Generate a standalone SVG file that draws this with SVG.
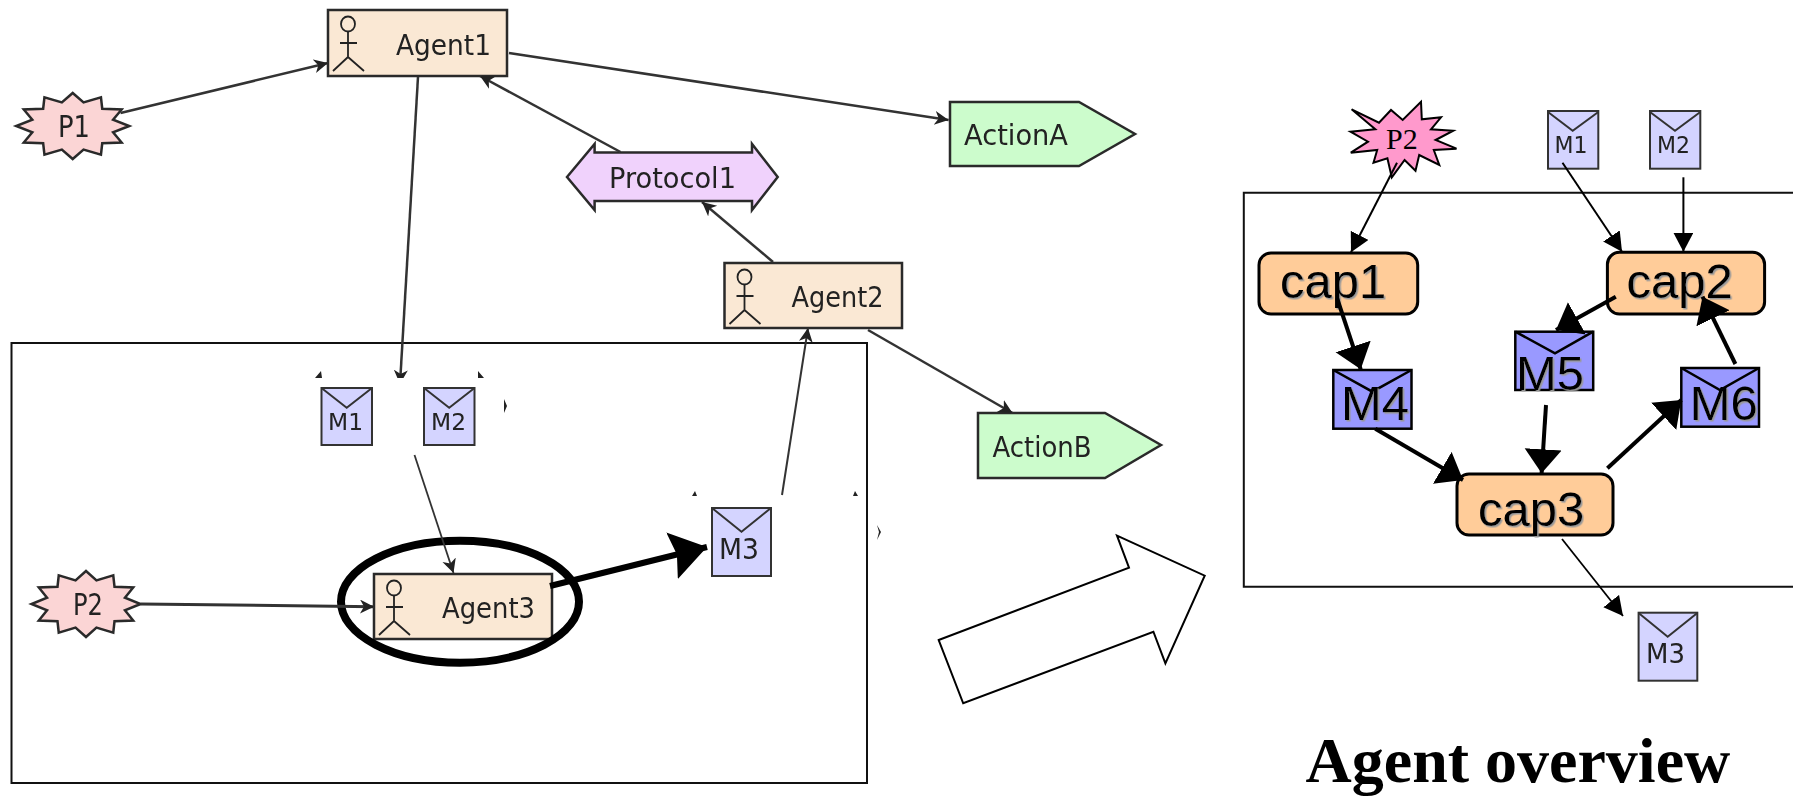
<svg xmlns="http://www.w3.org/2000/svg" xmlns:xlink="http://www.w3.org/1999/xlink" width="1793" height="796" viewBox="0 0 1793 796">
<style>
.frame{fill:none;stroke:#111;stroke-width:2}
.patch{fill:#fff}
.ol{stroke:#2a2a2a;stroke-width:2.5}
.agent{fill:#fae8d4}
.percept{fill:#fbd5d5;vector-effect:non-scaling-stroke}
.action{fill:#ccfccc}
.protocol{fill:#f0d2fc}
.msg{fill:#d4d4ff;stroke:#333;stroke-width:2}
.msgd{fill:#9999ff;stroke:#000;stroke-width:2.5}
.cap{fill:#ffcc99;stroke:#000;stroke-width:3}
.vee{fill:none;stroke:#333;stroke-width:2}
.veed{fill:none;stroke:#000;stroke-width:2.5}
.fig{fill:none;stroke:#222;stroke-width:1.8}
.t{font-family:"DejaVu Sans",sans-serif;fill:#222;text-anchor:start}
.big{font-family:"Liberation Sans",Arial,sans-serif;font-size:49px;fill:#000;filter:url(#sh)}
.soft{filter:url(#soft)}
.c1{fill:none;stroke:#333;stroke-width:2.5;marker-end:url(#vh)}
.c2{fill:none;stroke:#000;stroke-width:2;marker-end:url(#ta)}
.c3{fill:none;stroke:#000;stroke-width:4;marker-end:url(#tb)}
.mark{fill:#222}
</style>
<defs>
<filter id="sh" x="-5%" y="-5%" width="115%" height="115%"><feDropShadow dx="1.5" dy="1.5" stdDeviation="0" flood-color="#999"/></filter>
<filter id="soft" x="-5%" y="-5%" width="110%" height="110%"><feGaussianBlur stdDeviation="0.5"/></filter>
<marker id="vh" markerUnits="userSpaceOnUse" markerWidth="16" markerHeight="16" refX="14" refY="7" orient="auto"><path d="M0,0 L14,7 L0,14 L4,7 z" fill="#222"/></marker>
<marker id="ta" markerUnits="userSpaceOnUse" markerWidth="22" markerHeight="22" refX="19" refY="10" orient="auto"><path d="M0,0 L19,10 L0,20 z" fill="#000"/></marker>
<marker id="tb" markerUnits="userSpaceOnUse" markerWidth="28" markerHeight="40" refX="24" refY="18.5" orient="auto"><path d="M0,0 L24,18.5 L0,37 z" fill="#000"/></marker>
<marker id="tc" markerUnits="userSpaceOnUse" markerWidth="40" markerHeight="52" refX="36" refY="24" orient="auto"><path d="M0,0 L36,24 L0,48 L5,24 z" fill="#000"/></marker>
<clipPath id="above"><rect x="0" y="0" width="1793" height="378"/></clipPath>
<polygon id="star" points="100,0 71.5,19.2 86.6,50 52.3,52.3 50,86.6 19.2,71.5 0,100 -19.2,71.5 -50,86.6 -52.3,52.3 -86.6,50 -71.5,19.2 -100,0 -71.5,-19.2 -86.6,-50 -52.3,-52.3 -50,-86.6 -19.2,-71.5 0,-100 19.2,-71.5 50,-86.6 52.3,-52.3 86.6,-50 71.5,-19.2" class="percept ol"/>
<g id="fig"><ellipse cx="20" cy="14" rx="7" ry="7.5" class="fig"/><path class="fig" d="M20,22 V47 M12,33 H29 M20,47 L5,61 M20,47 L36,61"/></g>
</defs>

<g id="frames">
<rect class="frame" x="11.5" y="343" width="855.5" height="440"/>
<path class="frame" d="M1793,192.7 H1243.8 V586.7 H1793"/>
</g>
<g id="patches">
<rect class="patch" x="293" y="378" width="212" height="75"/>
<rect class="patch" x="666" y="496" width="200" height="71"/>
</g>

<g id="agent1" class="soft"><rect class="agent ol" x="328" y="10" width="179" height="66"/><use xlink:href="#fig" x="328" y="10"/><text class="t" x="396" y="55" font-size="29" textLength="95" lengthAdjust="spacingAndGlyphs">Agent1</text></g>
<g id="agent2" class="soft"><rect class="agent ol" x="724.5" y="263" width="177.5" height="65"/><use xlink:href="#fig" x="724.5" y="263"/><text class="t" x="791.5" y="307" font-size="29" textLength="92" lengthAdjust="spacingAndGlyphs">Agent2</text></g>
<g id="agent3" class="soft"><rect class="agent ol" x="374" y="574" width="178" height="65"/><use xlink:href="#fig" x="374" y="574"/><text class="t" x="442" y="618" font-size="29" textLength="93" lengthAdjust="spacingAndGlyphs">Agent3</text></g>
<ellipse id="highlight" cx="460" cy="601.7" rx="119" ry="61" fill="none" stroke="#000" stroke-width="8"/>
<g id="p1" class="soft"><use xlink:href="#star" transform="translate(72.7,126) scale(.565,.33)"/><text class="t" x="58" y="137" font-size="30" textLength="32" lengthAdjust="spacingAndGlyphs">P1</text></g>
<g id="p2-left" class="soft"><use xlink:href="#star" transform="translate(86,604) scale(.545,.33)"/><text class="t" x="73" y="615" font-size="30" textLength="30" lengthAdjust="spacingAndGlyphs">P2</text></g>
<g id="protocol1" class="soft"><polygon class="protocol ol" points="567,177 594.6,144 594.6,152.5 752,152.5 752,144 777.7,177 752,210 752,201 594.6,201 594.6,210"/><text class="t" x="609" y="188" font-size="29" textLength="127" lengthAdjust="spacingAndGlyphs">Protocol1</text></g>
<g id="actiona" class="soft"><polygon class="action ol" points="950,102 1079,102 1135,134 1079,166 950,166"/><text class="t" x="964" y="145" font-size="29" textLength="104" lengthAdjust="spacingAndGlyphs">ActionA</text></g>
<g id="actionb" class="soft"><polygon class="action ol" points="978,413 1105,413 1161,445 1105,478 978,478"/><text class="t" x="992.5" y="457" font-size="29" textLength="99" lengthAdjust="spacingAndGlyphs">ActionB</text></g>
<g id="m1-left" class="soft"><rect class="msg" x="321.5" y="388" width="50.5" height="57"/><path class="vee" d="M321.5,388 L346.7,407.7 L372,388"/><text class="t" x="328" y="430" font-size="23" textLength="35" lengthAdjust="spacingAndGlyphs">M1</text></g>
<g id="m2-left" class="soft"><rect class="msg" x="424" y="388" width="50.5" height="57"/><path class="vee" d="M424,388 L449.2,407.7 L474.5,388"/><text class="t" x="431" y="430" font-size="23" textLength="35" lengthAdjust="spacingAndGlyphs">M2</text></g>
<g id="m3-left" class="soft"><rect class="msg" x="712" y="508" width="59" height="68"/><path class="vee" d="M712,508 L741.5,531.7 L771,508"/><text class="t" x="719" y="559" font-size="29" textLength="40" lengthAdjust="spacingAndGlyphs">M3</text></g>

<g id="big-arrow"><polygon fill="#fff" stroke="#000" stroke-width="2" points="938.7,640 1129,567.7 1117,535.7 1204.7,575.7 1165.4,663.3 1153.4,631.7 963.2,703.3"/></g>

<g id="p2-right"><polygon fill="#ff99cc" stroke="#000" stroke-width="2" points="1351.6,109.3 1379,122.7 1391,110 1402.7,120 1421,101.7 1421.8,119.3 1441,117.3 1431,129.3 1453.2,130.7 1435.6,140 1456.5,148.7 1433.8,150 1439.3,165 1419.2,155 1415.5,170.7 1404.6,160 1391.8,177.3 1387.4,158.3 1373.5,162.7 1377.2,150 1350.8,152.7 1368,141.7 1350.5,131.7 1375.3,129.3"/><text x="1386" y="149" font-family="'Liberation Serif',serif" font-size="30" fill="#000">P2</text></g>
<g id="m1-right" class="soft"><rect class="msg" x="1548" y="111" width="50.3" height="57.7"/><path class="vee" d="M1548,112 L1572.7,130.7 L1598.3,112"/><text class="t" x="1554.4" y="153" font-size="23" textLength="33" lengthAdjust="spacingAndGlyphs">M1</text></g>
<g id="m2-right" class="soft"><rect class="msg" x="1650" y="111" width="50.3" height="57.7"/><path class="vee" d="M1650,112 L1675,130.7 L1700.3,112"/><text class="t" x="1657" y="153" font-size="23" textLength="33" lengthAdjust="spacingAndGlyphs">M2</text></g>
<g id="m3-right" class="soft"><rect class="msg" x="1638.6" y="612.7" width="58.7" height="68"/><path class="vee" d="M1638.6,613 L1667.7,636.7 L1697.3,613"/><text class="t" x="1646" y="663" font-size="27" textLength="39" lengthAdjust="spacingAndGlyphs">M3</text></g>
<g id="cap1"><rect class="cap" x="1259" y="253" width="158.7" height="61" rx="12"/><text class="big" x="1280" y="298">cap1</text></g>
<g id="cap2"><rect class="cap" x="1607.4" y="252.3" width="157.2" height="61.7" rx="12"/><text class="big" x="1626.4" y="298">cap2</text></g>
<g id="cap3"><rect class="cap" x="1457" y="474" width="156" height="61" rx="12"/><text class="big" x="1478" y="526">cap3</text></g>
<g id="m4"><rect class="msgd" x="1333.3" y="370" width="78.2" height="58.7"/><path class="veed" d="M1333.3,370 L1372.4,391.7 L1411.5,370"/><text class="big" x="1341" y="420">M4</text></g>
<g id="m5"><rect class="msgd" x="1515.3" y="331.7" width="77.9" height="58.3"/><path class="veed" d="M1515.3,331.7 L1555,353.3 L1593.2,331.7"/><text class="big" x="1516" y="390">M5</text></g>
<g id="m6"><rect class="msgd" x="1681.3" y="368" width="77.7" height="58.7"/><path class="veed" d="M1681.3,368 L1720,390 L1759,368"/><text class="big" x="1689.7" y="420">M6</text></g>
<text id="title" x="1305.5" y="782" font-family="'Liberation Serif',serif" font-weight="bold" font-size="64" fill="#000">Agent overview</text>

<g id="connectors">
<line class="c1" x1="120.5" y1="113" x2="328" y2="63"/>
<line class="c1" x1="418" y1="77" x2="400" y2="384" clip-path="url(#above)"/>
<line class="c1" x1="509" y1="53" x2="948.6" y2="120"/>
<line class="c1" x1="620.5" y1="152" x2="480" y2="76"/>
<line class="c1" x1="773" y1="262" x2="702" y2="202"/>
<line class="c1" x1="868" y1="330" x2="1012.5" y2="413"/>
<line class="c1" style="stroke-width:2" x1="782" y1="495" x2="808" y2="328"/>
<line class="c1" style="stroke-width:1.8" x1="414.5" y1="455" x2="453.5" y2="573"/>
<line class="c1" style="stroke-width:3" x1="140.6" y1="604" x2="374" y2="606.7"/>
<line x1="550" y1="586" x2="707" y2="547" stroke="#000" stroke-width="6" marker-end="url(#tc)"/>
<path class="mark" d="M315,378 L321,371 L322,378 z M478,371 L484,378 L478,378 z M504,399 L507,406 L504,413 z M692,496 L695,491 L697,496 z M853,496 L855,491 L858,496 z M877,525 L881,532 L877,540 L879,532 z"/>
<line class="c2" x1="1397" y1="162.7" x2="1351" y2="252.3"/>
<line class="c2" x1="1562.5" y1="162.7" x2="1622" y2="251.7"/>
<line class="c2" x1="1683.4" y1="177.3" x2="1683.4" y2="251.7"/>
<line class="c3" x1="1337" y1="298" x2="1360.7" y2="369.3"/>
<line class="c3" x1="1615.8" y1="296.7" x2="1556" y2="330"/>
<line class="c3" x1="1546" y1="405" x2="1541.6" y2="473.3"/>
<line class="c3" x1="1375.3" y1="428.7" x2="1463" y2="480"/>
<line class="c3" x1="1607.4" y1="468.3" x2="1681.3" y2="400"/>
<line class="c3" x1="1735.4" y1="364" x2="1702.5" y2="296.7"/>
<line class="c2" style="stroke-width:1.8" x1="1562" y1="539" x2="1623" y2="616"/>
</g>
</svg>
